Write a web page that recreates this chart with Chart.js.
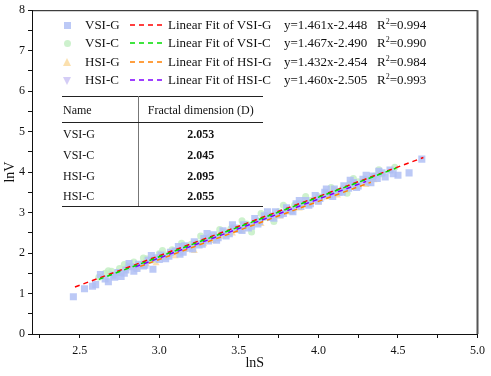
<!DOCTYPE html>
<html lang="en">
<head>
  <meta charset="UTF-8">
  <title>lnV vs lnS</title>
  <script src="https://cdn.jsdelivr.net/npm/chart.js"></script>
  <style>
    html, body { margin: 0; padding: 0; background: #fff; }
    .wrap { position: relative; width: 491px; height: 376px; font-family: 'Liberation Serif', 'Times New Roman', serif; }
    .lg { position: absolute; font-size: 13px; line-height: 15px; white-space: nowrap; color: #111; }
    .mk { position: absolute; }
    .dash { position: absolute; }
    .tbl { position: absolute; left: 62px; top: 96px; width: 201px; border-collapse: collapse; font-size: 12px; color: #111; }
    .tbl td { padding: 0; height: 21px; padding-top: 2px; box-sizing: border-box; }
    .tbl tr:first-child td { border-top: 1.5px solid #222; border-bottom: 1px solid #222; height: 26px; padding-top: 2px; }
    .tbl tr:last-child td { border-bottom: 1.5px solid #222; }
    .tbl td:first-child { width: 76px; border-right: 1px solid #777; padding-left: 1px; }
    .tbl td.v { text-align: center; font-weight: bold; }
  </style>
</head>
<body>
<div class="wrap">
  <canvas id="fitChart" width="491" height="376"></canvas>
  <div id="legend"></div>
  <table class="tbl">
    <tr><td>Name</td><td style="text-align:center">Fractal dimension (D)</td></tr>
    <tr><td>VSI-G</td><td class="v">2.053</td></tr>
    <tr><td>VSI-C</td><td class="v">2.045</td></tr>
    <tr><td>HSI-G</td><td class="v">2.095</td></tr>
    <tr><td>HSI-C</td><td class="v">2.055</td></tr>
  </table>
</div>

<script>
  // series names and fit labels
  const seriesNames = ['VSI-G', 'VSI-C', 'HSI-G', 'HSI-C'];
  const fitEquations = ['y=1.461x-2.448', 'y=1.467x-2.490', 'y=1.432x-2.454', 'y=1.460x-2.505'];
  const fitR2 = ['0.994', '0.990', '0.984', '0.993'];

  // scatter points
  const vsiGX = [2.46, 2.53, 2.60, 2.63, 2.68, 2.71, 2.74, 2.76, 2.79, 2.82, 2.84, 2.87, 2.90, 2.93, 2.96, 2.98,
    3.01, 3.04, 3.07, 3.10, 3.13, 3.16, 3.19, 3.22, 3.25, 3.28, 3.31, 3.34, 3.37, 3.40, 3.44, 3.47, 3.50, 3.53,
    3.56, 3.60, 3.63, 3.66, 3.70, 3.73, 3.76, 3.80, 3.83, 3.86, 3.89, 3.92, 3.95, 3.98, 4.01, 4.04, 4.07, 4.10,
    4.13, 4.16, 4.19, 4.22, 4.25, 4.28, 4.31, 4.34, 4.37, 4.40, 4.45, 4.50, 4.57, 4.65,
    2.58, 2.66, 2.72, 2.78, 2.81, 2.86, 2.91, 2.95, 3.00, 3.06, 3.12, 3.15, 3.21, 3.27, 3.30, 3.36, 3.42, 3.46,
    3.52, 3.58, 3.62, 3.68, 3.72, 3.78, 3.84, 3.88, 3.94, 4.00, 4.05, 4.09, 4.15, 4.20, 4.24, 4.30, 4.33, 4.38,
    4.42, 4.47];
  const vsiGY = [0.92, 1.12, 1.22, 1.47, 1.29, 1.45, 1.52, 1.42, 1.58, 1.66, 1.55, 1.72, 1.68, 1.82, 1.60, 1.88,
    1.95, 1.86, 2.02, 2.05, 1.97, 2.18, 2.12, 2.28, 2.20, 2.36, 2.30, 2.45, 2.38, 2.55, 2.48, 2.62, 2.58, 2.70,
    2.62, 2.85, 2.78, 2.92, 2.88, 3.02, 2.95, 3.12, 3.05, 3.22, 3.15, 3.30, 3.22, 3.42, 3.35, 3.50, 3.44, 3.58,
    3.50, 3.66, 3.60, 3.74, 3.66, 3.82, 3.75, 3.90, 3.84, 3.98, 4.05, 3.92, 3.98, 4.32,
    1.18, 1.36, 1.40, 1.50, 1.74, 1.62, 1.70, 1.94, 1.84, 1.92, 2.16, 2.02, 2.10, 2.22, 2.48, 2.32, 2.42, 2.70,
    2.56, 2.66, 2.72, 3.02, 2.86, 2.98, 3.02, 3.30, 3.18, 3.28, 3.58, 3.40, 3.50, 3.80, 3.62, 3.92, 3.74, 4.02,
    3.88, 3.96];

  const vsiCX = [2.62, 2.66, 2.70, 2.75, 2.80, 2.84, 2.88, 2.92, 2.96, 3.00, 3.04, 3.08, 3.12, 3.16, 3.20, 3.24,
    3.28, 3.32, 3.36, 3.40, 3.45, 3.50, 3.55, 3.58, 3.62, 3.66, 3.70, 3.75, 3.80, 3.85, 3.90, 3.95, 4.00, 4.05,
    4.10, 4.15, 4.20, 4.25, 4.30, 4.35, 4.40, 4.48,
    2.68, 2.78, 2.90, 3.02, 3.14, 3.26, 3.38, 3.52, 3.64, 3.78, 3.92, 4.08, 4.22, 4.38, 4.18, 3.72];
  const vsiCY = [1.40, 1.50, 1.55, 1.62, 1.66, 1.78, 1.72, 1.86, 1.84, 1.98, 1.95, 2.08, 2.05, 2.16, 2.22, 2.25,
    2.34, 2.40, 2.42, 2.52, 2.60, 2.62, 2.72, 2.52, 2.80, 2.88, 2.92, 3.02, 3.08, 3.18, 3.22, 3.30, 3.40, 3.42,
    3.55, 3.58, 3.70, 3.76, 3.82, 3.90, 3.95, 4.12,
    1.56, 1.72, 1.88, 2.06, 2.24, 2.42, 2.58, 2.80, 2.98, 3.18, 3.40, 3.62, 3.84, 4.06, 3.48, 2.78];

  const hsiGX = [2.86, 2.92, 2.98, 3.04, 3.10, 3.16, 3.22, 3.28, 3.34, 3.40, 3.46, 3.52, 3.58, 3.64, 3.70, 3.76,
    3.82, 3.88, 3.94, 4.00, 4.06, 4.12, 4.18, 4.24, 4.30, 4.35];
  const hsiGY = [1.62, 1.72, 1.75, 1.88, 1.92, 2.08, 2.05, 2.22, 2.30, 2.40, 2.48, 2.55, 2.68, 2.72, 2.84, 2.90,
    3.00, 3.10, 3.18, 3.25, 3.38, 3.42, 3.52, 3.62, 3.68, 3.80];

  const hsiCX = [2.85, 2.90, 2.96, 3.02, 3.08, 3.14, 3.20, 3.26, 3.32, 3.38, 3.44, 3.50, 3.56, 3.62, 3.68, 3.74,
    3.80, 3.86, 3.92, 3.98, 4.04, 4.10, 4.16, 4.22, 4.28];
  const hsiCY = [1.62, 1.75, 1.82, 1.90, 1.98, 2.08, 2.18, 2.25, 2.35, 2.42, 2.55, 2.60, 2.70, 2.78, 2.88, 2.95,
    3.05, 3.15, 3.22, 3.30, 3.40, 3.48, 3.58, 3.65, 3.75];

  // fit line end points
  const fitVsiGX = [2.47, 4.66];
  const fitVsiGY = [1.16, 4.36];
  const fitVsiCX = [2.62, 4.49];
  const fitVsiCY = [1.35, 4.10];
  const fitHsiGX = [2.88, 4.33];
  const fitHsiGY = [1.67, 3.75];
  const fitHsiCX = [2.85, 4.30];
  const fitHsiCY = [1.66, 3.77];

  const pointColors = ['rgba(176,192,244,0.85)', 'rgba(196,238,196,0.85)', 'rgba(250,218,160,0.85)', 'rgba(204,196,244,0.85)'];
  const lineColors = ['#ff0000', '#00dd00', '#ff8000', '#8000ff'];
  const lineOrder = [4, 1, 3, 2];
  const pointStyles = ['rect', 'circle', 'triangle', 'triangle'];
  const pointRot = [0, 0, 0, 180];
  const pointSizes = [5, 3.5, 4, 4];

  function toXY(xs, ys) {
    return xs.map((x, i) => ({ x: x, y: ys[i] }));
  }

  const scatterData = [toXY(vsiGX, vsiGY), toXY(vsiCX, vsiCY), toXY(hsiGX, hsiGY), toXY(hsiCX, hsiCY)];
  const fitData = [toXY(fitVsiGX, fitVsiGY), toXY(fitVsiCX, fitVsiCY), toXY(fitHsiGX, fitHsiGY), toXY(fitHsiCX, fitHsiCY)];

  const datasets = [];
  seriesNames.forEach((name, i) => {
    datasets.push({
      type: 'scatter',
      label: name,
      data: scatterData[i],
      pointStyle: pointStyles[i],
      rotation: pointRot[i],
      pointRadius: pointSizes[i],
      pointHoverRadius: pointSizes[i],
      backgroundColor: pointColors[i],
      borderWidth: 0,
      order: 10
    });
  });
  seriesNames.forEach((name, i) => {
    datasets.push({
      type: 'line',
      label: 'Linear Fit of ' + name,
      data: fitData[i],
      borderColor: lineColors[i],
      borderWidth: 1.5,
      borderDash: [5, 4],
      pointRadius: 0,
      fill: false,
      order: lineOrder[i]
    });
  });

  // frame on top and right side of the plot
  const framePlugin = {
    id: 'frame',
    afterDraw(chart) {
      const a = chart.chartArea, ctx = chart.ctx;
      ctx.save();
      ctx.strokeStyle = '#111';
      ctx.lineWidth = 1;
      ctx.beginPath();
      ctx.moveTo(a.left, a.top + 0.5);
      ctx.lineTo(a.right, a.top + 0.5);
      ctx.stroke();
      ctx.strokeStyle = '#555';
      ctx.lineWidth = 2;
      ctx.beginPath();
      ctx.moveTo(a.right, a.top);
      ctx.lineTo(a.right, a.bottom);
      ctx.stroke();
      ctx.restore();
    }
  };

  const tickFont = { family: "'Liberation Serif', serif", size: 12 };
  const titleFont = { family: "'Liberation Serif', serif", size: 14 };

  const chart = new Chart(document.getElementById('fitChart'), {
    data: { datasets: datasets },
    options: {
      responsive: false,
      animation: false,
      layout: { padding: { top: 4, right: 8, left: 0, bottom: 0 } },
      plugins: { legend: { display: false }, tooltip: { enabled: false } },
      scales: {
        x: {
          type: 'linear',
          min: 2.2,
          max: 5.0,
          afterFit(scale) { scale.height = 42; },
          afterBuildTicks(scale) {
            const t = [];
            for (let k = 9; k <= 20; k++) t.push({ value: k / 4 });
            scale.ticks = t;
          },
          grid: { drawOnChartArea: false, tickLength: 4, color: '#111' },
          border: { color: '#111', width: 1 },
          ticks: {
            font: tickFont, color: '#111', padding: 6, maxRotation: 0, autoSkip: false,
            callback: v => (Math.abs(v * 2 - Math.round(v * 2)) < 1e-6 ? v.toFixed(1) : '')
          },
          title: { display: true, text: 'lnS', font: titleFont, color: '#111', padding: { top: 2, bottom: 4 } }
        },
        y: {
          type: 'linear',
          min: 0,
          max: 8,
          afterFit(scale) { scale.width = 32; },
          afterBuildTicks(scale) {
            const t = [];
            for (let k = 0; k <= 16; k++) t.push({ value: k / 2 });
            scale.ticks = t;
          },
          grid: { drawOnChartArea: false, tickLength: 4, color: '#111' },
          border: { color: '#111', width: 1 },
          ticks: {
            font: tickFont, color: '#111', padding: 3, autoSkip: false,
            callback: v => (Number.isInteger(v) ? String(v) : '')
          },
          title: { display: true, text: 'lnV', font: titleFont, color: '#111', padding: { top: 2, bottom: 0 } }
        }
      }
    },
    plugins: [framePlugin]
  });

  // legend block in the upper-left of the plot
  const legend = document.getElementById('legend');
  const rowY = [25, 43, 62, 80];
  seriesNames.forEach((name, i) => {
    const cy = rowY[i];
    let mk = '';
    if (i === 0) mk = `<div class="mk" style="left:64px;top:${cy - 3}px;width:7px;height:7px;background:${pointColors[0]}"></div>`;
    if (i === 1) mk = `<div class="mk" style="left:64px;top:${cy - 3}px;width:7px;height:7px;border-radius:50%;background:${pointColors[1]}"></div>`;
    if (i === 2) mk = `<div class="mk" style="left:63px;top:${cy - 4}px;width:0;height:0;border-left:4.5px solid transparent;border-right:4.5px solid transparent;border-bottom:8px solid ${pointColors[2]}"></div>`;
    if (i === 3) mk = `<div class="mk" style="left:63px;top:${cy - 3}px;width:0;height:0;border-left:4.5px solid transparent;border-right:4.5px solid transparent;border-top:8px solid ${pointColors[3]}"></div>`;
    legend.insertAdjacentHTML('beforeend', mk +
      `<div class="lg" style="left:85px;top:${cy - 8}px">${name}</div>` +
      `<svg class="dash" style="left:130px;top:${cy - 2}px" width="36" height="4"><line x1="0" y1="2" x2="36" y2="2" stroke="${lineColors[i]}" stroke-width="1.5" stroke-dasharray="5 4"/></svg>` +
      `<div class="lg" style="left:168px;top:${cy - 8}px">Linear Fit of ${name}</div>` +
      `<div class="lg" style="left:284px;top:${cy - 8}px">${fitEquations[i]}</div>` +
      `<div class="lg" style="left:377px;top:${cy - 8}px">R<sup style="font-size:8px;line-height:0">2</sup>=${fitR2[i]}</div>`);
  });
</script>
</body>
</html>
